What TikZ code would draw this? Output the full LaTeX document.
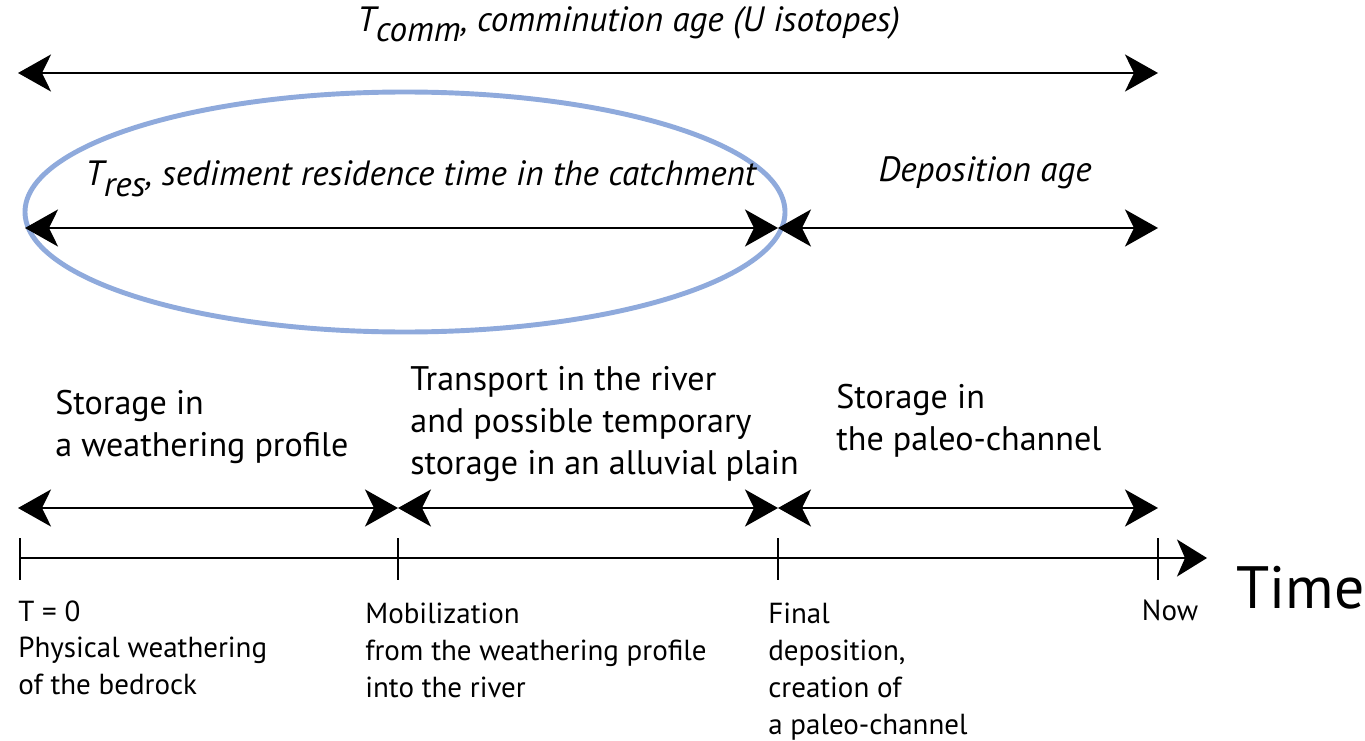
\documentclass[tikz,border=0pt]{standalone}
\usepackage{fontspec}
\setmainfont{PT Sans}
\usetikzlibrary{calc,arrows.meta,positioning}
\definecolor{ovalblue}{RGB}{143,170,220}
\tikzset{
  tip/.tip={Stealth[length=6.6mm,width=7.4mm,inset=1.8mm]},
  span/.style={line width=1.6pt, tip-tip},
  period/.style={font=\fontsize{20}{24}\selectfont\itshape, inner sep=0pt},
  phase/.style={font=\fontsize{19.4}{24}\selectfont, align=left, anchor=north west, inner sep=0pt},
  event/.style={font=\fontsize{16.5}{21}\selectfont, align=left, anchor=north west, inner sep=0pt},
}
\begin{document}
\begin{tikzpicture}[x=0.02cm, y=-0.02cm]
\useasboundingbox (0,0) rectangle (1365,740);
% oval round the residence time
\draw[ovalblue, line width=2.8pt] (405,212) ellipse [x radius=380, y radius=120];
% ticks on the time axis
\coordinate (t0) at (20,558);
\coordinate (t1) at (398,558);
\coordinate (t2) at (778,558);
\coordinate (t3) at (1158,558);
\coordinate (tend) at (1207,558);
\draw[line width=1pt, -{Stealth[length=6mm,width=7.4mm,inset=1.6mm]}] (t0) -- (tend);
\foreach \t in {t0,t1,t2,t3}
  \draw[line width=0.8pt] ($(\t)+(0,-20)$) -- ($(\t)+(0,22)$);
% spans
\coordinate (c0) at (18,73);
\coordinate (c1) at (1158,73);
\coordinate (r0) at (25,228);
\coordinate (r1) at (778,228);
\coordinate (r2) at (1158,228);
\coordinate (b0) at (18,508);
\coordinate (b1) at (398,508);
\coordinate (b2) at (778,508);
\coordinate (b3) at (1158,508);
\draw[span] (c0) -- (c1);
\draw[span] (r0) -- (r1);
\draw[span] (r1) -- (r2);
\draw[span] (b0) -- (b1);
\draw[span] (b1) -- (b2);
\draw[span] (b2) -- (b3);
% labels
\node[period, anchor=west] (tcomm) at (357,24) {T\raisebox{-0.3em}{comm}, comminution age (U isotopes)};
\node[period, anchor=west] (tres) at (85,179) {T\raisebox{-0.3em}{res}, sediment residence time in the catchment};
\node[period] (dep) at (985,173) {Deposition age};
\node[phase] (weath) at (55,390) {Storage in\\a weathering profile};
\node[phase] (river) at (410,366) {Transport in the river\\and possible temporary\\storage in an alluvial plain};
\node[phase] (paleo) at (836,384) {Storage in\\the paleo-channel};
\node[event] (zero) at (18,600) {T = 0\\Physical weathering\\of the bedrock};
\node[event] (mobil) at (365,603) {Mobilization\\from the weathering profile\\into the river};
\node[event] (final) at (768,603) {Final\\deposition,\\creation of\\a paleo-channel};
\node[event, anchor=north] (now) at (1170,600) {Now};
\node[font=\fontsize{34}{40}\selectfont, anchor=base west, inner sep=0pt] (time) at (1236,608) {Time};
\end{tikzpicture}
\end{document}
